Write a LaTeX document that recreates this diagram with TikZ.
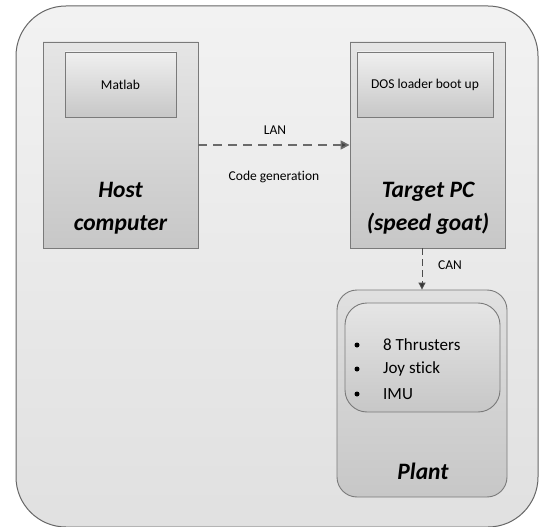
\documentclass[tikz,border=0pt]{standalone}
\usepackage{fontspec}
\setmainfont{Carlito}[Ligatures=NoCommon]
\usetikzlibrary{arrows.meta}
\definecolor{edge}{HTML}{7A7A7A}
\definecolor{link}{HTML}{6A6A6A}
\begin{document}
\begin{tikzpicture}[x=1pt,y=-1pt,
  box/.style={draw=edge, line width=0.9pt, top color=#1, bottom color=black!22, inner sep=0pt, anchor=center},
  box/.default={black!10},
  title/.style={font=\fontsize{23.5}{33}\selectfont\bfseries\itshape, align=center, inner sep=0pt},
  small/.style={font=\fontsize{13.5}{16}\selectfont, inner sep=0pt},
  listtext/.style={font=\fontsize{17}{20}\selectfont, inner sep=0pt, anchor=west},
  bulletdot/.style={circle, fill=black, inner sep=0pt, minimum size=5pt},
  conn/.style={draw=link, line width=1.6pt, dash pattern=on 9pt off 6pt, -{Triangle[length=9pt,width=9pt,fill=black!75]}},
  conn2/.style={draw=black!70, line width=1pt, dash pattern=on 7pt off 4pt, -{Triangle[length=7pt,width=7pt,fill=black!80]}}
]
\useasboundingbox (0,0) rectangle (539,527);
% outer frame
\node[draw=black!60, line width=1pt, top color=black!5, bottom color=black!12, rounded corners=50pt,
      minimum width=522pt, minimum height=521pt, inner sep=0pt] (outer) at (277,266.5) {};
% host
\node[box, minimum width=155pt, minimum height=206pt] (host) at (120.5,145) {};
\node[box=black!6, minimum width=111pt, minimum height=65pt] (matlab) at (120.5,84.5) {};
\node[small] (matlabtxt) at (matlab.center) {Matlab};
\node[title] (hosttxt) at (120.5,208) {Host\\computer};
% target
\node[box, minimum width=155pt, minimum height=206pt] (target) at (427.5,145) {};
\node[box=black!6, minimum width=136pt, minimum height=65pt] (dos) at (425,84.5) {};
\node[small] (dostxt) at (dos.center) {DOS loader boot up};
\node[title] (targettxt) at (428,208) {Target PC\\(speed goat)};
% plant
\node[box=black!12, rounded corners=20pt, minimum width=170pt, minimum height=207pt] (plant) at (422,393.5) {};
\node[box=black!10, rounded corners=22pt, minimum width=155pt, minimum height=109pt] (inner) at (422.5,357.5) {};
\node[bulletdot] (b1) at (357,345) {};
\node[bulletdot] (b2) at (357,369) {};
\node[bulletdot] (b3) at (357,394) {};
\node[listtext] (l1) at (383,345) {8 Thrusters};
\node[listtext] (l2) at (383,369) {Joy stick};
\node[listtext] (l3) at (383,394) {IMU};
\node[title] (planttxt) at (423,471) {Plant};
% connectors
\draw[conn] (host.east) -- (target.west);
\node[small] (lan) at (275,130) {LAN};
\node[small] (code) at (274,177) {Code generation};
\coordinate (cantop) at (plant.north |- target.south);
\draw[conn2] (cantop) -- (plant.north);
\node[small] (can) at (450,265) {CAN};
\end{tikzpicture}
\end{document}
